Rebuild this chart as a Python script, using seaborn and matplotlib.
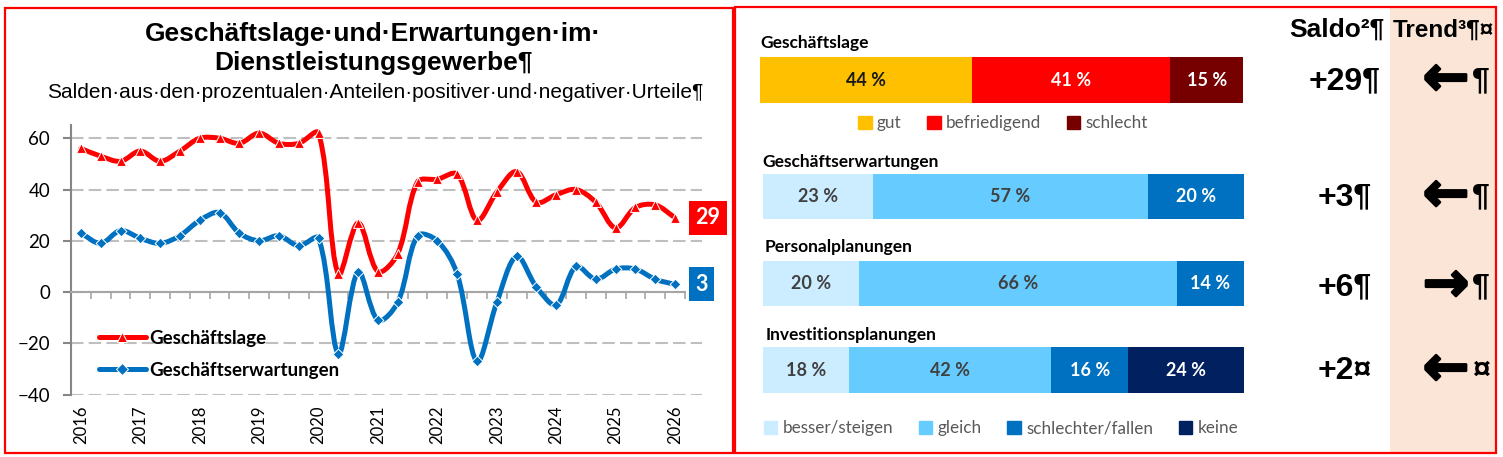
import numpy as np
import seaborn as sns
import matplotlib.pyplot as plt
import matplotlib.patheffects as pe
from matplotlib.path import Path
from matplotlib.patches import PathPatch, Rectangle, Patch
from matplotlib.lines import Line2D

# Werte (Salden), drei Umfragen pro Jahr, 2016 bis Jahresbeginn 2026
years = list(range(2016, 2027))
lage = [56, 53, 51, 55, 51, 55, 60, 60, 58, 62, 58, 58, 62, 7, 27, 8, 15,
        43, 44, 46, 28, 39, 47, 35, 38, 40, 35, 25, 33, 34, 29]
erwartungen = [23, 19, 24, 21, 19, 22, 28, 31, 23, 20, 22, 18, 21, -24, 8, -11, -4,
               22, 20, 7, -27, -4, 14, 2, -5, 10, 5, 9, 9, 5, 3]

# Aktuelle Umfrage (Anteile in %)
bar_titles = ["Geschäftslage", "Geschäftserwartungen", "Personalplanungen", "Investitionsplanungen"]
bar_values = [[44, 41, 15], [23, 57, 20], [20, 66, 14], [18, 42, 16, 24]]
lage_labels = ["gut", "befriedigend", "schlecht"]
plan_labels = ["besser/steigen", "gleich", "schlechter/fallen", "keine"]
trend = ["←", "←", "→", "←"]
marks = ["¶", "¶", "¶", "¤"]

RED = "#FF0000"
BLUE = "#0070C0"
lage_colors = ["#FFC000", "#FF0000", "#760000"]
plan_colors = ["#CCECFF", "#66CCFF", "#0070C0", "#002060"]
lage_text = ["#1a1a1a", "white", "white"]
plan_text = ["#404040", "#404040", "white", "white"]

W, H = 1503, 457
sns.set_theme(style="white")
plt.rcParams["font.family"] = ["Lato", "DejaVu Sans"]
plt.rcParams["text.color"] = "black"

fig = plt.figure(figsize=(W / 100, H / 100), dpi=100)


def fx(x):
    return x / W


def fy(y):
    return 1 - y / H


def box(x0, y0, x1, y1):
    return [fx(x0), fy(y1), (x1 - x0) / W, (y1 - y0) / H]


def smooth_path(ax, xs, ys):
    # geglaettete Linie (wie Excel) als Bezier-Pfad, Tangenten nach Abstand gewichtet
    pts = np.column_stack([xs, ys]).astype(float)
    disp = ax.transData.transform(pts)
    n = len(pts)
    d = np.hypot(*np.diff(disp, axis=0).T)
    verts = [pts[0]]
    codes = [Path.MOVETO]
    for i in range(n - 1):
        if i > 0:
            c1 = pts[i] + (pts[i + 1] - pts[i - 1]) / 3 * d[i] / (d[i - 1] + d[i])
        else:
            c1 = pts[i] + (pts[i + 1] - pts[i]) / 3
        if i + 2 < n:
            c2 = pts[i + 1] - (pts[i + 2] - pts[i]) / 3 * d[i] / (d[i] + d[i + 1])
        else:
            c2 = pts[i + 1] - (pts[i + 1] - pts[i]) / 3
        verts += [c1, c2, pts[i + 1]]
        codes += [Path.CURVE4] * 3
    return Path(verts, codes)


# Hintergrund Trend-Spalte und Rahmen
fig.add_artist(Rectangle((fx(1390), fy(453)), 106 / W, 445 / H, transform=fig.transFigure,
                         facecolor="#FBE5D6", edgecolor="none", zorder=0))
fig.add_artist(Rectangle((fx(4.5), fy(453)), 728.5 / W, 445.5 / H, transform=fig.transFigure,
                         fill=False, edgecolor=RED, lw=1.6, zorder=5))
fig.add_artist(Rectangle((fx(735), fy(453)), 761 / W, 446 / H, transform=fig.transFigure,
                         fill=False, edgecolor=RED, lw=1.6, zorder=5))

# ---------------- Liniendiagramm ----------------
ax = fig.add_axes(box(71, 125.4, 702, 394.7))
ax.set_facecolor("none")
idx = np.arange(len(lage))
ax.set_xlim(-0.5, 31.36)
ax.set_ylim(-40, 65)

for vals, col in [(lage, RED), (erwartungen, BLUE)]:
    ax.add_patch(PathPatch(smooth_path(ax, idx, vals), facecolor="none", edgecolor=col,
                           lw=3.6, capstyle="round", joinstyle="round", zorder=3))
sns.scatterplot(x=idx, y=lage, marker="^", s=50, color=RED, edgecolor="white",
                linewidth=0.7, zorder=4, ax=ax)
sns.scatterplot(x=idx, y=erwartungen, marker="D", s=30, color=BLUE, edgecolor="white",
                linewidth=0.7, zorder=4, ax=ax)

ax.set_xlim(-0.5, 31.36)
ax.set_ylim(-40, 65)
ax.set_yticks(range(-40, 61, 20))
ax.tick_params(axis="y", direction="out", length=6, width=1.5, color="#868686",
               pad=9, labelsize=13.5, labelcolor="black", left=True)
ax.yaxis.grid(True, color="#BFBFBF", lw=1.5, linestyle=(0, (6, 2.5)))
ax.xaxis.grid(False)
for s in ["top", "right"]:
    ax.spines[s].set_visible(False)
ax.spines["left"].set_color("#868686")
ax.spines["left"].set_linewidth(1.5)
ax.spines["bottom"].set_position(("data", 0))
ax.spines["bottom"].set_bounds(-0.5, len(lage) - 0.5)
ax.spines["bottom"].set_color("#A6A6A6")
ax.spines["bottom"].set_linewidth(1.5)
ax.set_xticks(np.arange(-0.5, len(lage), 1))
ax.set_xticklabels([])
ax.tick_params(axis="x", direction="out", length=5, width=1.2, color="#A6A6A6", bottom=True)

sec = ax.secondary_xaxis("bottom")
sec.set_xticks(idx[::3], labels=[str(y) for y in years])
sec.tick_params(length=0, pad=8, labelsize=12, labelrotation=90, labelcolor="black")
sec.spines["bottom"].set_visible(False)

ax.annotate(str(lage[-1]), xy=(idx[-1], lage[-1]), xytext=(20, 0), textcoords="offset pixels",
            ha="left", va="center", color="white", fontsize=15.5, fontweight="bold",
            bbox=dict(boxstyle="square,pad=0.3", fc=RED, ec="none"))
ax.annotate(str(erwartungen[-1]), xy=(idx[-1], erwartungen[-1]), xytext=(20, 0),
            textcoords="offset pixels", ha="left", va="center", color="white", fontsize=15.5,
            fontweight="bold", bbox=dict(boxstyle="square,pad=0.3", fc=BLUE, ec="none"))

handles = [Line2D([], [], color=RED, lw=3.6, marker="^", markersize=7.5, mfc=RED, mec="white", mew=0.7),
           Line2D([], [], color=BLUE, lw=3.6, marker="D", markersize=6, mfc=BLUE, mec="white", mew=0.7)]
ax.legend(handles, ["Geschäftslage", "Geschäftserwartungen"], loc="upper left",
          bbox_to_anchor=(fx(99), fy(330)), bbox_transform=fig.transFigure, frameon=False,
          handlelength=2.5, handletextpad=0.2, labelspacing=0.78, borderpad=0, borderaxespad=0,
          prop=dict(family="Lato", weight="bold", size=13.5))

fig.text(fx(373), fy(34), "Geschäftslage·und·Erwartungen·im·", ha="center", va="center",
         family="Liberation Sans", fontweight="bold", fontsize=19)
fig.text(fx(373), fy(63), "Dienstleistungsgewerbe¶", ha="center", va="center",
         family="Liberation Sans", fontweight="bold", fontsize=19)
fig.text(fx(375), fy(92), "Salden·aus·den·prozentualen·Anteilen·positiver·und·negativer·Urteile¶",
         ha="center", va="center", family="Liberation Sans", fontsize=15)

# ---------------- Balken ----------------
bar_boxes = [(759.5, 57.3, 1243, 102.7), (762.5, 174, 1244, 219),
             (762.5, 260.7, 1244, 305.7), (762.5, 347.3, 1244, 392.7)]
title_pos = [(760, 43), (762, 161.5), (765, 247), (766, 335)]
row_y = [81, 197, 287, 371]

for i, (title, vals) in enumerate(zip(bar_titles, bar_values)):
    cols = (lage_colors if i == 0 else plan_colors)[:len(vals)]
    tcols = (lage_text if i == 0 else plan_text)[:len(vals)]
    axb = fig.add_axes(box(*bar_boxes[i]))
    cum = np.cumsum(vals)
    for c, col in zip(cum[::-1], cols[::-1]):
        sns.barplot(x=[c], y=[title], color=col, orient="h", width=1, saturation=1,
                    errorbar=None, linewidth=0, ax=axb)
    for v, c, tc in zip(vals, cum, tcols):
        axb.text(c - v / 2, 0, f"{v} %", ha="center", va="center", color=tc,
                 fontsize=13, fontweight="bold")
    axb.set_xlim(0, 100)
    axb.set_ylim(0.5, -0.5)
    axb.axis("off")
    fig.text(fx(title_pos[i][0]), fy(title_pos[i][1]), title, ha="left", va="center",
             fontsize=12.5, fontweight="bold", color="black")

    saldo = vals[0] - vals[2]
    fig.text(fx(1345), fy(row_y[i]), f"{saldo:+d}{marks[i]}", ha="center", va="center",
             family="Liberation Sans", fontweight="bold", fontsize=23, color="black")
    fig.text(fx(1446), fy(row_y[i] - 1), trend[i], ha="center", va="center",
             family="DejaVu Sans", fontweight="bold", fontsize=40, color="black",
             path_effects=[pe.withStroke(linewidth=1.8, foreground="black")])
    fig.text(fx(1481), fy(row_y[i]), marks[i], ha="center", va="center",
             family="Liberation Sans", fontweight="bold", fontsize=23, color="black")

fig.text(fx(1289), fy(30), "Saldo²¶", ha="left", va="center", family="Liberation Sans",
         fontweight="bold", fontsize=19)
fig.text(fx(1393), fy(30), "Trend³¶¤", ha="left", va="center", family="Liberation Sans",
         fontweight="bold", fontsize=17.5)

leg_kw = dict(frameon=False, handlelength=0.8, handleheight=0.8, handletextpad=0.3,
              columnspacing=1.5, borderpad=0, prop=dict(family="Lato", size=12.3),
              labelcolor="#595959")
fig.legend([Patch(color=c) for c in lage_colors], lage_labels, ncol=3, loc="center",
           bbox_to_anchor=(fx(1003), fy(123)), **leg_kw)
fig.legend([Patch(color=c) for c in plan_colors], plan_labels, ncol=4, loc="center",
           bbox_to_anchor=(fx(1001), fy(428)), **leg_kw)

fig.savefig("out.png", dpi=100)
